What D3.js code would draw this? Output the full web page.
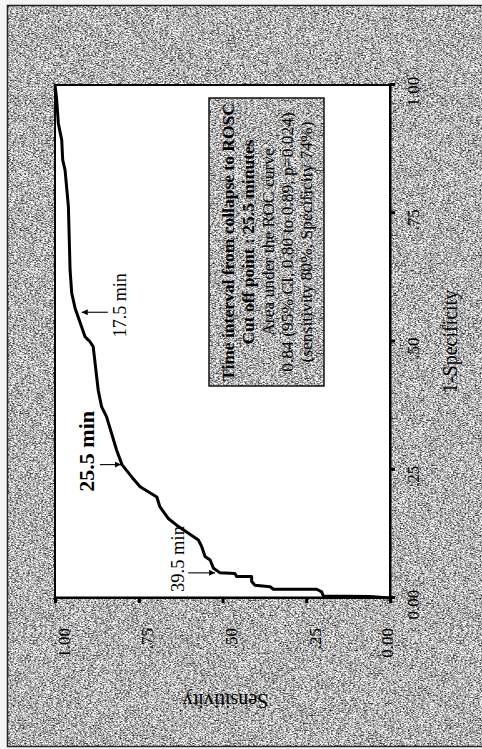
<!DOCTYPE html>
<html>
<head>
<meta charset="utf-8">
<script src="https://cdn.jsdelivr.net/npm/d3@7/dist/d3.min.js"></script>
<style>
  html, body { margin: 0; padding: 0; background: #ffffff; }
  svg { display: block; }
  text { font-family: "Liberation Serif", "Times New Roman", serif; fill: #000; }
</style>
</head>
<body>
<div id="chart"></div>
<script>
// ROC curve: 1-Specificity vs Sensitivity
const fpr  = [0, 0.003, 0.004, 0.012, 0.017, 0.017, 0.022, 0.025, 0.032, 0.042,
              0.042, 0.048, 0.049, 0.058, 0.074, 0.081, 0.100, 0.113, 0.142, 0.155,
              0.178, 0.197, 0.217, 0.236, 0.260, 0.288, 0.353, 0.373, 0.405, 0.490,
              0.500, 0.509, 0.565, 0.594, 0.639, 0.763, 0.834, 0.854, 0.893, 0.925,
              0.971, 1];
const sens = [0, 0.060, 0.199, 0.204, 0.219, 0.348, 0.358, 0.403, 0.413, 0.413,
              0.458, 0.463, 0.507, 0.527, 0.537, 0.552, 0.562, 0.572, 0.637, 0.662,
              0.687, 0.696, 0.746, 0.771, 0.800, 0.816, 0.846, 0.861, 0.871, 0.886,
              0.896, 0.910, 0.940, 0.950, 0.955, 0.960, 0.970, 0.977, 0.980, 0.990,
              0.995, 1];

// Marked cut-off times on the curve
const cutLabels = ["25.5 min", "17.5 min", "39.5 min"];
const cutFpr    = [0.26, 0.557, 0.049];
const cutSens   = [0.80, 0.935, 0.507];

// Axis ticks
const tickValues = [0, 0.25, 0.5, 0.75, 1];
const tickLabels = ["0.00", ".25", ".50", ".75", "1.00"];

// Summary box
const boxLines = [
  "Time interval from collapse to ROSC",
  "Cut off point : 25.5 minutes",
  "Area under the ROC curve",
  "0.84 (95% CI, 0.80 to 0.89, p=0.024)",
  "(sensitivity 80%, Specificity 74%)"
];
const boxBold = [true, true, false, false, false];

const pageW = 482, pageH = 749;

const svg = d3.select("#chart").append("svg")
  .attr("width", pageW).attr("height", pageH);

const defs = svg.append("defs");

// grainy grey paper texture
function grain(id, fx, fy, seed) {
  const f = defs.append("filter").attr("id", id)
    .attr("x", 0).attr("y", 0).attr("width", 1).attr("height", 1)
    .attr("color-interpolation-filters", "sRGB");
  f.append("feTurbulence").attr("type", "fractalNoise")
    .attr("baseFrequency", `${fx} ${fy}`).attr("numOctaves", 1)
    .attr("seed", seed).attr("result", "n");
  f.append("feColorMatrix").attr("in", "n").attr("type", "matrix")
    .attr("values", "2.0 0 0 0 -0.30  2.0 0 0 0 -0.30  2.0 0 0 0 -0.30  0 0 0 0 1");
}
grain("grainH", 0.6, 1.4, 4);
grain("grainV", 1.4, 0.6, 9);

defs.append("marker").attr("id", "ah")
  .attr("viewBox", "0 0 10 10").attr("refX", 10).attr("refY", 5)
  .attr("markerWidth", 7).attr("markerHeight", 6)
  .attr("markerUnits", "userSpaceOnUse").attr("orient", "auto")
  .append("path").attr("d", "M0,0L10,5L0,10z").attr("fill", "#000");

// page background and frame
svg.append("rect").attr("x", 0).attr("y", 0).attr("width", pageW).attr("height", pageH)
  .attr("fill", "#f4f4f4");
svg.append("rect").attr("x", 7).attr("y", 5).attr("width", pageW - 7).attr("height", 742)
  .attr("fill", "#b0b0b0").attr("filter", "url(#grainH)");
svg.append("path").attr("d", `M${pageW},5.5H7.5V746.5H${pageW}`)
  .attr("fill", "none").attr("stroke", "#222").attr("stroke-width", 1.5);

// the chart is laid out upright in a 749 x 482 frame, then turned a quarter turn
const g = svg.append("g").attr("transform", `translate(0,${pageH}) rotate(-90)`);

const x = d3.scaleLinear().domain([0, 1]).range([151, 664]);
const y = d3.scaleLinear().domain([0, 1]).range([390, 55]);

// plot area
g.append("rect")
  .attr("x", x(0)).attr("y", y(1))
  .attr("width", x(1) - x(0)).attr("height", y(0) - y(1))
  .attr("fill", "#fff").attr("stroke", "#000").attr("stroke-width", 2);

const fmt = v => tickLabels[tickValues.indexOf(v)];

const xAxis = g.append("g").attr("transform", `translate(0,${y(0)})`)
  .call(d3.axisBottom(x).tickValues(tickValues).tickFormat(fmt).tickSize(5).tickPadding(0));
xAxis.select(".domain").attr("stroke-width", 2);
xAxis.selectAll(".tick line").attr("stroke-width", 3);
xAxis.selectAll(".tick text")
  .attr("font-size", 17).attr("y", 29).attr("dy", 0).attr("x", -7);

const yAxis = g.append("g").attr("transform", `translate(${x(0)},0)`)
  .call(d3.axisLeft(y).tickValues(tickValues).tickFormat(fmt).tickSize(5).tickPadding(0));
yAxis.select(".domain").attr("stroke-width", 2);
yAxis.selectAll(".tick line").attr("stroke-width", 3);
yAxis.selectAll(".tick text")
  .attr("font-size", 17).attr("x", -30).attr("dy", 0)
  .attr("y", d => d === 0 ? 2 : 14);

// ROC curve
const pts = fpr.map((f, i) => [f, sens[i]]);
g.append("path").datum(pts)
  .attr("fill", "none").attr("stroke", "#000").attr("stroke-width", 3)
  .attr("stroke-linejoin", "round")
  .attr("d", d3.line().x(d => x(d[0])).y(d => y(d[1])));

// summary box
const box = { x0: 363, x1: 651, y0: 209, y1: 324 };
g.append("rect").attr("x", box.x0).attr("y", box.y0)
  .attr("width", box.x1 - box.x0).attr("height", box.y1 - box.y0)
  .attr("fill", "#b0b0b0").attr("filter", "url(#grainV)");
g.append("rect").attr("x", box.x0).attr("y", box.y0)
  .attr("width", box.x1 - box.x0).attr("height", box.y1 - box.y0)
  .attr("fill", "none").attr("stroke", "#111").attr("stroke-width", 1.5);
const lineBase = [234, 254, 274, 293, 312];
g.selectAll("text.box").data(boxLines).join("text").attr("class", "box")
  .attr("x", (box.x0 + box.x1) / 2).attr("y", (d, i) => lineBase[i])
  .attr("text-anchor", "middle").attr("font-size", 17.5)
  .attr("font-weight", (d, i) => boxBold[i] ? "bold" : "normal")
  .text(d => d);

// cut-off arrows and labels
const cutStyle = [
  { tail: -22, tip: -1, base: -28, dx: -27, size: 22, weight: "bold" },
  { tail: 31,  tip: 5,  base: 49,  dx: -25, size: 18, weight: "normal" },
  { tail: -32, tip: -5, base: -36, dx: -19, size: 18.5, weight: "normal" }
];
cutLabels.forEach((lab, i) => {
  const px = x(cutFpr[i]), py = y(cutSens[i]), s = cutStyle[i];
  g.append("line")
    .attr("x1", px).attr("y1", py + s.tail).attr("x2", px).attr("y2", py + s.tip)
    .attr("stroke", "#000").attr("stroke-width", 1.1).attr("marker-end", "url(#ah)");
  g.append("text").attr("x", px + s.dx).attr("y", py + s.base)
    .attr("font-size", s.size).attr("font-weight", s.weight).text(lab);
});

// axis titles
g.append("text").attr("x", (x(0) + x(1)) / 2).attr("y", 457)
  .attr("text-anchor", "middle").attr("font-size", 20).text("1-Specificity");
g.append("text")
  .attr("transform", `translate(55,${(y(0) + y(1)) / 2 + 3}) rotate(-90)`)
  .attr("text-anchor", "middle").attr("font-size", 20).text("Sensitivity");
</script>
</body>
</html>
